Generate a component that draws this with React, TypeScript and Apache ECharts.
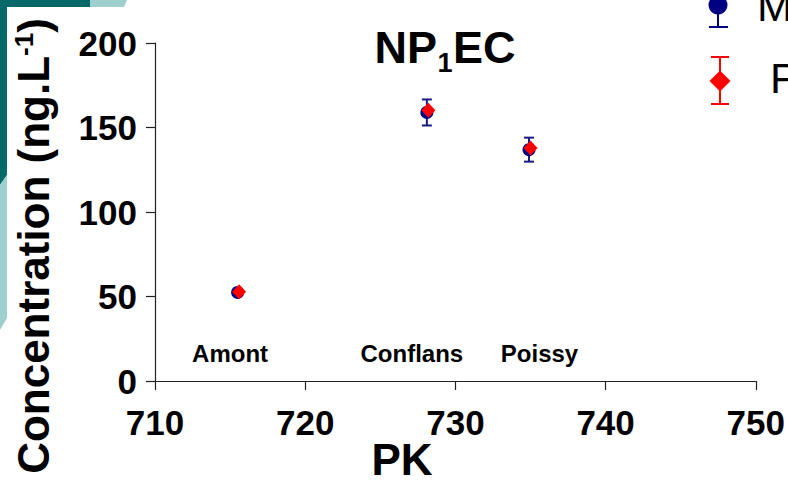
import React, { useEffect, useRef } from "react";
import * as echarts from "echarts";

// Sampling sites along the Seine (PK = kilometre point)
const sites = ["Amont", "Conflans", "Poissy"];
const measuredPk = [715.5, 728.1, 734.9];
const measured = [52.4, 158.9, 136.9];
const measuredErr = [1.5, 7.7, 7.1];
const predictedPk = [715.6, 728.2, 735.0];
const predicted = [52.8, 160.2, 137.9];

// Where the site names sit, in axis units
const siteLabelPk = [715, 727.1, 735.6];
const siteLabelLevel = 16;

const xRange = [710, 750];
const xStep = 10;
const yRange = [0, 200];
const yStep = 50;

const legendNames = ["Mesures", "Prédictions"];

const FONT = '"Liberation Sans", Arial, sans-serif';
const NAVY = "#000080";
const RED = "#ff0000";
const DARK_TEAL = "#05696a";
const LIGHT_TEAL = "#9ccfce";

export default function App() {
  const ref = useRef<HTMLDivElement>(null);

  useEffect(() => {
    if (!ref.current) return;
    const chart = echarts.init(ref.current, null, { renderer: "svg" });

    const errData = measuredPk.map((x, i) => [
      x,
      measured[i] - measuredErr[i],
      measured[i] + measuredErr[i],
    ]);

    const option: any = {
      animation: false,
      backgroundColor: "#ffffff",
      grid: { left: 155, right: 31, top: 43, bottom: 118 },
      xAxis: {
        type: "value",
        min: xRange[0],
        max: xRange[1],
        interval: xStep,
        splitLine: { show: false },
        axisLine: { show: true, lineStyle: { color: "#222", width: 1.2 } },
        axisTick: { show: true, inside: false, length: 9, lineStyle: { color: "#222", width: 1.2 } },
        axisLabel: {
          margin: 24,
          color: "#000",
          fontSize: 35,
          fontWeight: "bold",
          fontFamily: FONT,
        },
      },
      yAxis: {
        type: "value",
        min: yRange[0],
        max: yRange[1],
        interval: yStep,
        splitLine: { show: false },
        axisLine: { show: true, lineStyle: { color: "#222", width: 1.2 } },
        axisTick: { show: true, inside: false, length: 9, lineStyle: { color: "#222", width: 1.2 } },
        axisLabel: {
          margin: 18,
          color: "#000",
          fontSize: 35,
          fontWeight: "bold",
          fontFamily: FONT,
        },
      },
      series: [
        {
          type: "custom",
          name: "errors",
          data: errData,
          renderItem: (_params: any, api: any) => {
            const x = api.value(0);
            const top = api.coord([x, api.value(2)]);
            const bot = api.coord([x, api.value(1)]);
            const hw = 5;
            const style = { stroke: "#1a1a80", lineWidth: 2 };
            return {
              type: "group",
              children: [
                { type: "line", shape: { x1: top[0], y1: top[1], x2: bot[0], y2: bot[1] }, style },
                { type: "line", shape: { x1: top[0] - hw, y1: top[1], x2: top[0] + hw, y2: top[1] }, style },
                { type: "line", shape: { x1: bot[0] - hw, y1: bot[1], x2: bot[0] + hw, y2: bot[1] }, style },
              ],
            };
          },
          z: 2,
        },
        {
          type: "scatter",
          name: legendNames[0],
          data: measuredPk.map((x, i) => [x, measured[i]]),
          symbol: "circle",
          symbolSize: 13,
          itemStyle: { color: NAVY, opacity: 1 },
          z: 3,
        },
        {
          type: "scatter",
          name: legendNames[1],
          data: predictedPk.map((x, i) => [x, predicted[i]]),
          symbol: "diamond",
          symbolSize: [14, 15],
          itemStyle: { color: RED, opacity: 1 },
          z: 4,
        },
        {
          type: "scatter",
          name: "sites",
          data: sites.map((s, i) => ({ name: s, value: [siteLabelPk[i], siteLabelLevel] })),
          symbolSize: 1,
          itemStyle: { color: "transparent", opacity: 1 },
          label: {
            show: true,
            position: "inside",
            formatter: "{b}",
            color: "#000",
            opacity: 1,
            fontSize: 24,
            fontWeight: "bold",
            fontFamily: FONT,
          },
          silent: true,
          z: 5,
        },
      ],
      graphic: [
        // slide decoration on the left edge
        {
          type: "polygon",
          shape: { points: [[0, 0], [90, 0], [90, 7], [7, 7], [7, 175], [0, 185]] },
          style: { fill: DARK_TEAL },
          silent: true,
        },
        {
          type: "polygon",
          shape: { points: [[90, 0], [127, 0], [124, 7], [90, 7]] },
          style: { fill: LIGHT_TEAL },
          silent: true,
        },
        {
          type: "polygon",
          shape: { points: [[0, 185], [7, 175], [7, 318], [0, 330]] },
          style: { fill: LIGHT_TEAL },
          silent: true,
        },
        // chart title NP1EC
        {
          type: "text",
          x: 437,
          y: 47,
          style: { text: "NP", fontSize: 45, fontWeight: "bold", fontFamily: FONT, fill: "#000", align: "right", verticalAlign: "middle" },
        },
        {
          type: "text",
          x: 445,
          y: 63,
          style: { text: "1", fontSize: 27, fontWeight: "bold", fontFamily: FONT, fill: "#000", align: "center", verticalAlign: "middle" },
        },
        {
          type: "text",
          x: 453,
          y: 47,
          style: { text: "EC", fontSize: 45, fontWeight: "bold", fontFamily: FONT, fill: "#000", align: "left", verticalAlign: "middle" },
        },
        // y-axis title
        {
          type: "text",
          x: 33,
          y: 246,
          rotation: Math.PI / 2,
          style: {
            text: "{a|Concentration (ng.L}{s|-1}{a|)}",
            align: "center",
            verticalAlign: "middle",
            fill: "#000",
            rich: {
              a: { fontSize: 44, fontWeight: "bold", fontFamily: FONT, fill: "#000" },
              s: { fontSize: 26, fontWeight: "bold", fontFamily: FONT, fill: "#000", verticalAlign: "top" },
            },
          },
        },
        // x-axis title
        {
          type: "text",
          x: 402,
          y: 459,
          style: { text: "PK", fontSize: 44, fontWeight: "bold", fontFamily: FONT, fill: "#000", align: "center", verticalAlign: "middle" },
        },
        // legend: measured
        { type: "line", shape: { x1: 718, y1: 5, x2: 718, y2: 27 }, style: { stroke: NAVY, lineWidth: 2 } },
        { type: "line", shape: { x1: 709, y1: 27, x2: 728, y2: 27 }, style: { stroke: NAVY, lineWidth: 2 } },
        { type: "circle", shape: { cx: 718, cy: 5, r: 9.5 }, style: { fill: NAVY } },
        {
          type: "text",
          x: 757,
          y: 6,
          style: { text: legendNames[0], fontSize: 43, fontFamily: FONT, fill: "#000", align: "left", verticalAlign: "middle" },
        },
        // legend: predicted
        { type: "line", shape: { x1: 720, y1: 57, x2: 720, y2: 104 }, style: { stroke: RED, lineWidth: 2 } },
        { type: "line", shape: { x1: 711, y1: 57, x2: 729, y2: 57 }, style: { stroke: RED, lineWidth: 2 } },
        { type: "line", shape: { x1: 711, y1: 104, x2: 729, y2: 104 }, style: { stroke: RED, lineWidth: 2 } },
        { type: "polygon", shape: { points: [[720, 70.5], [730.5, 81], [720, 91.5], [709.5, 81]] }, style: { fill: RED } },
        {
          type: "text",
          x: 770,
          y: 78,
          style: { text: legendNames[1], fontSize: 43, fontFamily: FONT, fill: "#000", align: "left", verticalAlign: "middle" },
        },
      ],
    };

    chart.setOption(option);
    return () => chart.dispose();
  }, []);

  return (
    <div
      ref={ref}
      style={{ position: "fixed", left: 0, top: 0, width: 788, height: 499, background: "#fff" }}
    />
  );
}
